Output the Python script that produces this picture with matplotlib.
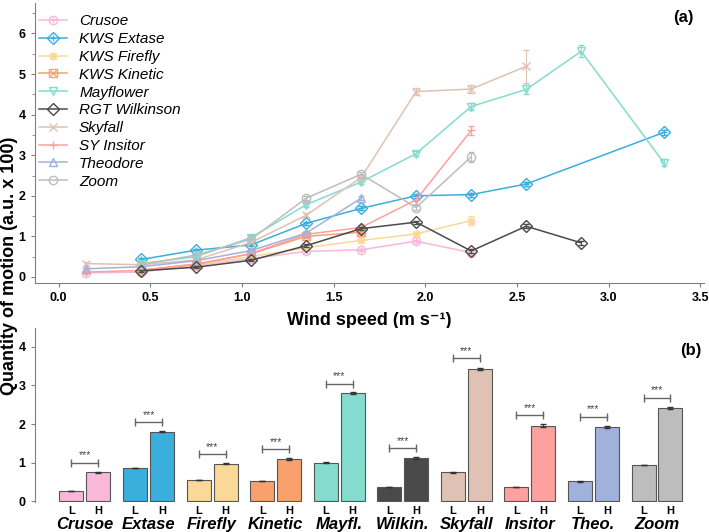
import numpy as np
import matplotlib
matplotlib.use('Agg')
import matplotlib.pyplot as plt
from matplotlib.lines import Line2D
from matplotlib.legend_handler import HandlerTuple
from matplotlib.transforms import blended_transform_factory

plt.rcParams['font.family'] = ['Liberation Sans', 'DejaVu Sans']

nan = np.nan

# ---------------------------------------------------------------------------------------
"""(a) quantity of motion vs wind speed"""
speed = [0.15, 0.45, 0.75, 1.05, 1.35, 1.65, 1.95, 2.25, 2.55, 2.85, 3.3]

cultivars = ['Crusoe', 'KWS Extase', 'KWS Firefly', 'KWS Kinetic', 'Mayflower',
             'RGT Wilkinson', 'Skyfall', 'SY Insitor', 'Theodore', 'Zoom']

qom_crusoe = [0.10, 0.12, 0.28, 0.45, 0.63, 0.67, 0.88, 0.60, nan, nan, nan]
qom_extase = [nan, 0.43, 0.66, 0.79, 1.32, 1.69, 2.00, 2.03, 2.29, nan, 3.56]
qom_firefly = [nan, 0.14, 0.30, 0.50, 0.72, 0.90, 1.06, 1.39, nan, nan, nan]
qom_kinetic = [nan, 0.17, 0.32, 0.57, 1.00, 1.10, nan, nan, nan, nan, nan]
qom_mayflower = [nan, 0.33, 0.50, 0.97, 1.78, 2.34, 3.04, 4.20, 4.62, 5.56, 2.82]
qom_wilkinson = [nan, 0.15, 0.24, 0.41, 0.77, 1.19, 1.35, 0.64, 1.25, 0.84, nan]
qom_skyfall = [0.33, 0.30, 0.42, 0.85, 1.52, 2.45, 4.57, 4.63, 5.19, nan, nan]
qom_insitor = [0.12, 0.16, 0.30, 0.58, 1.05, 1.22, 1.90, 3.61, nan, nan, nan]
qom_theodore = [0.20, 0.25, 0.40, 0.65, 1.08, 1.94, nan, nan, nan, nan, nan]
qom_zoom = [nan, 0.30, 0.54, 0.93, 1.94, 2.53, 1.71, 2.96, nan, nan, nan]

err_crusoe = [0.02, 0.02, 0.02, 0.03, 0.03, 0.03, 0.04, 0.05, nan, nan, nan]
err_extase = [nan, 0.03, 0.03, 0.03, 0.04, 0.05, 0.05, 0.05, 0.06, nan, 0.05]
err_firefly = [nan, 0.02, 0.02, 0.03, 0.03, 0.04, 0.05, 0.10, nan, nan, nan]
err_kinetic = [nan, 0.02, 0.02, 0.03, 0.04, 0.05, nan, nan, nan, nan, nan]
err_mayflower = [nan, 0.03, 0.03, 0.04, 0.05, 0.06, 0.06, 0.08, 0.12, 0.15, 0.08]
err_wilkinson = [nan, 0.02, 0.02, 0.02, 0.03, 0.04, 0.04, 0.04, 0.05, 0.05, nan]
err_skyfall = [0.03, 0.03, 0.03, 0.04, 0.05, 0.06, 0.08, 0.10, 0.40, nan, nan]
err_insitor = [0.02, 0.02, 0.02, 0.03, 0.04, 0.05, 0.12, 0.10, nan, nan, nan]
err_theodore = [0.02, 0.02, 0.02, 0.03, 0.04, 0.05, nan, nan, nan, nan, nan]
err_zoom = [nan, 0.02, 0.03, 0.04, 0.05, 0.06, 0.06, 0.12, nan, nan, nan]

# ---------------------------------------------------------------------------------------
"""(b) low vs high wind"""
short_names = ['Crusoe', 'Extase', 'Firefly', 'Kinetic', 'Mayfl.',
               'Wilkin.', 'Skyfall', 'Insitor', 'Theo.', 'Zoom']
low_wind = [0.26, 0.86, 0.545, 0.52, 1.00, 0.36, 0.745, 0.36, 0.51, 0.93]
high_wind = [0.745, 1.80, 0.97, 1.09, 2.80, 1.12, 3.43, 1.96, 1.93, 2.42]
low_err = [0.005, 0.01, 0.01, 0.01, 0.01, 0.005, 0.01, 0.005, 0.005, 0.005]
high_err = [0.015, 0.015, 0.02, 0.035, 0.02, 0.02, 0.035, 0.05, 0.03, 0.03]
sig_height = [1.00, 2.05, 1.22, 1.35, 3.05, 1.38, 3.71, 2.23, 2.19, 2.68]

colors = ['#F9B8D9', '#3AAEDC', '#F9D898', '#F9A16D', '#83DCCD',
          '#4A4A4A', '#DFC2B3', '#FCA0A0', '#A0B2DC', '#BDBDBD']

qom_all = [qom_crusoe, qom_extase, qom_firefly, qom_kinetic, qom_mayflower,
           qom_wilkinson, qom_skyfall, qom_insitor, qom_theodore, qom_zoom]
err_all = [err_crusoe, err_extase, err_firefly, err_kinetic, err_mayflower,
           err_wilkinson, err_skyfall, err_insitor, err_theodore, err_zoom]

# R pch-like markers: main marker + optional overlay
markers = [('o', '+'), ('D', '+'), ((8, 2, 0), None), ('s', 'x'), ('v', None),
           ('D', None), ('x', None), ('+', None), ('^', None), ('o', None)]

fig = plt.figure(figsize=(7.09, 5.32), dpi=100)
ax1 = fig.add_axes([0.049, 0.468, 0.944, 0.527])
ax2 = fig.add_axes([0.049, 0.056, 0.944, 0.328])

spine_col = '#808080'
ms = 6

handles = []
for i, name in enumerate(cultivars):
    xs = np.array(speed)
    ys = np.array(qom_all[i], dtype=float)
    es = np.array(err_all[i], dtype=float)
    ok = ~np.isnan(ys)
    col = colors[i]
    m1, m2 = markers[i]
    ax1.errorbar(xs[ok], ys[ok], yerr=es[ok], color=col, lw=1.1, capsize=2,
                 elinewidth=0.8, marker=m1, markersize=ms, mfc='none', mec=col,
                 mew=1.0, zorder=3 if name != 'RGT Wilkinson' else 4)
    h = [Line2D([], [], color=col, lw=1.1, marker=m1, markersize=ms, mfc='none', mec=col, mew=1.0)]
    if m2 is not None:
        ax1.plot(xs[ok], ys[ok], ls='none', marker=m2, markersize=ms - 1, mec=col, mew=0.9, zorder=3)
        h.append(Line2D([], [], ls='none', marker=m2, markersize=ms - 1, mec=col, mew=0.9))
    handles.append(tuple(h))

leg = ax1.legend(handles, cultivars, loc='upper left', bbox_to_anchor=(0.0, 0.975),
                 frameon=False, handler_map={tuple: HandlerTuple(ndivide=1, pad=0)},
                 prop={'style': 'italic', 'size': 11}, labelspacing=0.25,
                 handlelength=1.8, handletextpad=0.8, borderaxespad=0.1, borderpad=0.2)

ax1.set_xlim(-0.13, 3.52)
ax1.set_ylim(-0.15, 6.76)
ax1.set_xticks(np.arange(0, 3.51, 0.5))
ax1.set_xticklabels(['%.1f' % v for v in np.arange(0, 3.51, 0.5)])
ax1.set_yticks(range(0, 7))
ax1.set_yticks(np.arange(0.5, 6.6, 1.0), minor=True)
for s in ['top', 'right']:
    ax1.spines[s].set_visible(False)
for s in ['left', 'bottom']:
    ax1.spines[s].set_color(spine_col)
ax1.tick_params(axis='both', labelsize=9, color=spine_col, length=3, width=0.8)
ax1.tick_params(axis='y', which='minor', length=2, color=spine_col)
for lab in ax1.get_xticklabels() + ax1.get_yticklabels():
    lab.set_fontweight('bold')
ax1.set_xlabel('Wind speed (m s⁻¹)', fontsize=13, fontweight='bold', labelpad=6)
ax1.text(0.985, 0.975, '(a)', transform=ax1.transAxes, ha='right', va='top',
         fontsize=12, fontweight='bold')

# ---------------------------------------------------------------------------------------
"""bar chart"""
group_x = np.arange(len(short_names))
off = 0.212
bw = 0.377
for i in range(len(short_names)):
    ax2.bar(group_x[i] - off, low_wind[i], width=bw, color=colors[i],
            edgecolor='#555555', linewidth=0.8)
    ax2.bar(group_x[i] + off, high_wind[i], width=bw, color=colors[i],
            edgecolor='#555555', linewidth=0.8)
    ax2.errorbar([group_x[i] - off, group_x[i] + off], [low_wind[i], high_wind[i]],
                 yerr=[low_err[i], high_err[i]], ls='none', color='#333333',
                 capsize=2, elinewidth=0.8)
    # significance bracket
    ax2.plot([group_x[i] - off, group_x[i] + off], [sig_height[i], sig_height[i]],
             color='#666666', lw=1.0, marker='|', markersize=6, mew=1.0)
    ax2.text(group_x[i], sig_height[i] + 0.06, '***', ha='center', va='bottom',
             fontsize=7.5, color='#444444')

trans = blended_transform_factory(ax2.transData, ax2.transAxes)
for i in range(len(short_names)):
    ax2.text(group_x[i] - off, -0.05, 'L', transform=trans, ha='center', va='center',
             fontsize=8, fontweight='bold')
    ax2.text(group_x[i] + off, -0.05, 'H', transform=trans, ha='center', va='center',
             fontsize=8, fontweight='bold')
    ax2.text(group_x[i], -0.125, short_names[i], transform=trans, ha='center', va='center',
             fontsize=12, fontweight='bold', style='italic')

ax2.set_xlim(-0.79, 9.74)
ax2.set_ylim(-0.03, 4.5)
ax2.set_yticks(range(0, 5))
ax2.set_xticks([])
for s in ['top', 'right', 'bottom']:
    ax2.spines[s].set_visible(False)
ax2.spines['left'].set_color(spine_col)
ax2.tick_params(axis='y', labelsize=9, color=spine_col, length=3, width=0.8)
for lab in ax2.get_yticklabels():
    lab.set_fontweight('bold')
ax2.text(0.996, 0.87, '(b)', transform=ax2.transAxes, ha='right', va='center',
         fontsize=12, fontweight='bold')

fig.text(0.014, 0.5, 'Quantity of motion (a.u. x 100)', rotation=90, ha='center',
         va='center', fontsize=13, fontweight='bold')

plt.savefig('out.png', dpi=100)
